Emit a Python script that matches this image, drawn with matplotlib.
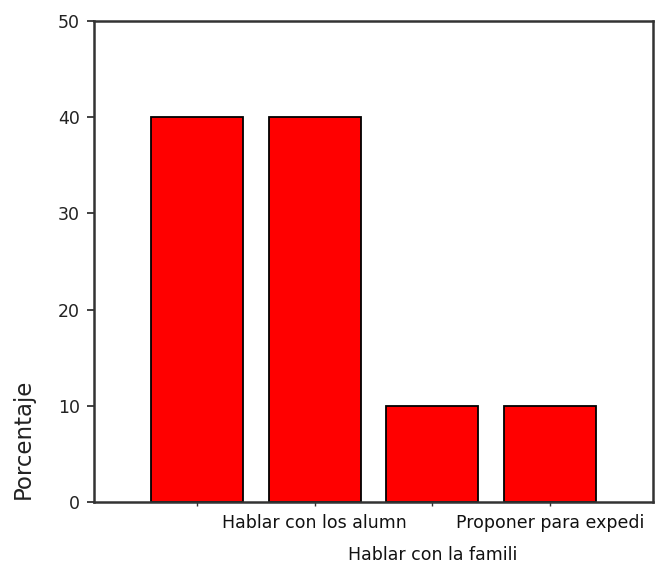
import matplotlib
matplotlib.use("Agg")
import matplotlib.pyplot as plt

categories = ["", "Hablar con los alumn", "Hablar con la famili", "Proponer para expedi"]
values = [40, 40, 10, 10]
yticks = [0, 10, 20, 30, 40, 50]

fig = plt.figure(figsize=(6.59, 5.70), dpi=100)
ax = fig.add_axes([94/659, (570-502)/570, (653-94)/659, (502-21)/570])

x = list(range(len(categories)))
ax.bar(x, values, width=0.78, color="#ff0000", edgecolor="black", linewidth=1.3, zorder=2)

ax.set_xlim(-0.87, 3.87)
ax.set_ylim(0, 50)
ax.set_yticks(yticks)
ax.set_yticklabels([str(v) for v in yticks], fontsize=12.5, family="DejaVu Sans", color="#222222")
ax.set_xticks(x)
ax.set_xticklabels([])
ax.tick_params(axis="y", length=5, width=1.3, color="#333333", pad=5)
ax.tick_params(axis="x", length=3, width=1.0, color="#333333")

for s in ax.spines.values():
    s.set_linewidth(1.8)
    s.set_color("#333333")

# staggered category labels
for i, lab in enumerate(categories):
    if not lab:
        continue
    row = 0 if i % 2 == 1 else 1
    yoff = -9 if row == 0 else -31.5
    ax.annotate(lab, xy=(i, 0), xycoords=("data", "axes fraction"),
                xytext=(0, yoff), textcoords="offset points",
                ha="center", va="top", fontsize=12.5, family="DejaVu Sans",
                color="#111111")

fig.text(23/659, 1 - 439/570, "Porcentaje", rotation=90, ha="center", va="center",
         fontsize=16.5, family="DejaVu Sans", color="#222222")

fig.savefig("out.png", dpi=100)
